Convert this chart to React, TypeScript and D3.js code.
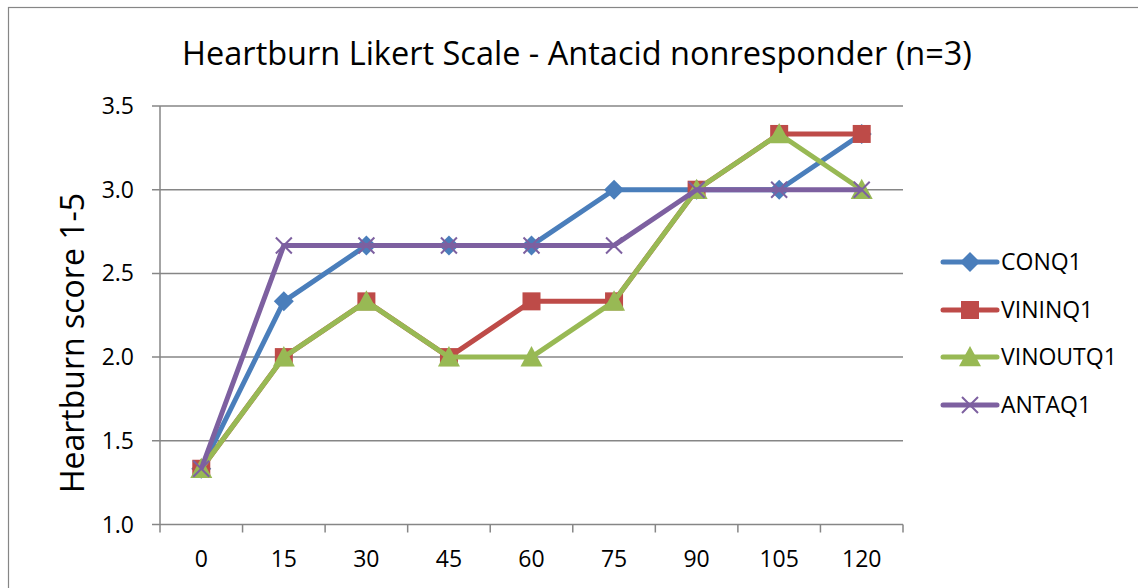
import React from 'react';
import * as d3 from 'd3';

const categories = ['0', '15', '30', '45', '60', '75', '90', '105', '120'];
const yTicks = [1.0, 1.5, 2.0, 2.5, 3.0, 3.5];

const conq1 = [1.333, 2.333, 2.667, 2.667, 2.667, 3.0, 3.0, 3.0, 3.333];
const vininq1 = [1.333, 2.0, 2.333, 2.0, 2.333, 2.333, 3.0, 3.333, 3.333];
const vinoutq1 = [1.333, 2.0, 2.333, 2.0, 2.0, 2.333, 3.0, 3.333, 3.0];
const antaq1 = [1.333, 2.667, 2.667, 2.667, 2.667, 2.667, 3.0, 3.0, 3.0];

const series = [
  { name: 'CONQ1', values: conq1, color: '#4A7EBB', marker: 'diamond' },
  { name: 'VININQ1', values: vininq1, color: '#BE4B48', marker: 'square' },
  { name: 'VINOUTQ1', values: vinoutq1, color: '#98B954', marker: 'triangle' },
  { name: 'ANTAQ1', values: antaq1, color: '#7D60A0', marker: 'x' },
];

const W = 1138;
const H = 588;
const left = 160;
const right = 903;
const top = 106;
const bottom = 524.5;
const font = "'Open Sans', 'Noto Sans', sans-serif";
const grid = '#868686';

const Marker: React.FC<{ type: string; x: number; y: number; color: string }> = ({ type, x, y, color }) => {
  if (type === 'diamond') {
    const s = 10;
    return <path d={`M${x},${y - s}L${x + s},${y}L${x},${y + s}L${x - s},${y}Z`} fill={color} />;
  }
  if (type === 'square') {
    const s = 9;
    return <rect x={x - s} y={y - s} width={2 * s} height={2 * s} fill={color} />;
  }
  if (type === 'triangle') {
    const s = 11;
    return <path d={`M${x},${y - s}L${x + s},${y + s * 0.85}L${x - s},${y + s * 0.85}Z`} fill={color} />;
  }
  const s = 8;
  return (
    <path
      d={`M${x - s},${y - s}L${x + s},${y + s}M${x - s},${y + s}L${x + s},${y - s}`}
      stroke={color}
      strokeWidth={2}
    />
  );
};

const App: React.FC = () => {
  const x = d3.scaleBand<string>().domain(categories).range([left, right]);
  const y = d3.scaleLinear().domain([1.0, 3.5]).range([bottom, top]);
  const cx = (c: string) => (x(c) as number) + x.bandwidth() / 2;

  const line = d3
    .line<number>()
    .x((_, i) => cx(categories[i]))
    .y((d) => y(d));

  const legendX = 943;
  const legendY = [262, 310, 357, 405];

  return (
    <svg
      width={W}
      height={H}
      style={{ position: 'absolute', left: 0, top: 0, background: '#fff' }}
      fontFamily={font}
    >
      <rect x={8.5} y={7.5} width={W + 10} height={H + 10} fill="#fff" stroke="#868686" strokeWidth={1.2} />
      <text x={577} y={65} textAnchor="middle" fontSize={32.5} fill="#000">
        Heartburn Likert Scale - Antacid nonresponder (n=3)
      </text>

      {/* gridlines and y ticks */}
      {yTicks.map((t) => (
        <g key={t}>
          <line x1={152} x2={right} y1={y(t)} y2={y(t)} stroke={grid} strokeWidth={1.5} />
          <text x={134} y={y(t)} dy="0.35em" textAnchor="end" fontSize={23} fill="#000">
            {d3.format('.1f')(t)}
          </text>
        </g>
      ))}
      <line x1={left} x2={left} y1={top} y2={bottom} stroke={grid} strokeWidth={1.5} />

      {/* x ticks */}
      {[...categories.map((c) => x(c) as number), right].map((p, i) => (
        <line key={i} x1={p} x2={p} y1={bottom} y2={bottom + 8} stroke={grid} strokeWidth={1.5} />
      ))}
      {categories.map((c) => (
        <text key={c} x={cx(c)} y={567} textAnchor="middle" fontSize={23} fill="#000">
          {c}
        </text>
      ))}

      <text
        transform={`translate(84, ${343}) rotate(-90)`}
        textAnchor="middle"
        fontSize={32}
        fill="#000"
      >
        Heartburn score 1-5
      </text>

      {/* series */}
      {series.map((s) => (
        <g key={s.name}>
          <path d={line(s.values) as string} fill="none" stroke={s.color} strokeWidth={5} strokeLinejoin="round" />
          {s.values.map((v, i) => (
            <Marker key={i} type={s.marker} x={cx(categories[i])} y={y(v)} color={s.color} />
          ))}
        </g>
      ))}

      {/* legend */}
      {series.map((s, i) => (
        <g key={s.name}>
          <line
            x1={legendX}
            x2={legendX + 54}
            y1={legendY[i]}
            y2={legendY[i]}
            stroke={s.color}
            strokeWidth={5}
            strokeLinecap="round"
          />
          <Marker type={s.marker} x={legendX + 27} y={legendY[i]} color={s.color} />
          <text x={legendX + 58} y={legendY[i]} dy="0.35em" fontSize={23} fill="#000">
            {s.name}
          </text>
        </g>
      ))}
    </svg>
  );
};

export default App;
